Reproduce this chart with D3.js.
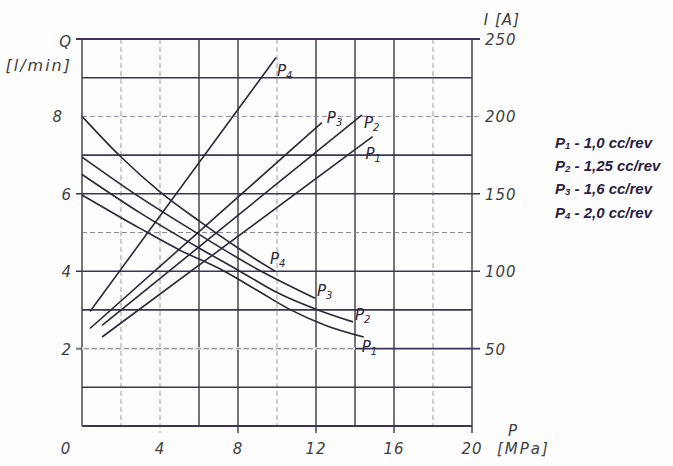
<!DOCTYPE html>
<html lang="en">
<head>
    <meta charset="UTF-8">
    <title>Q and I versus P</title>
    <script src="https://d3js.org/d3.v7.min.js"></script>
    <style>
        body { margin: 0; background: #fdfdfd; }
        svg { display: block; }
        .tick-label { font-family: "DejaVu Sans", sans-serif; font-style: italic; font-size: 15px; fill: #404040; letter-spacing: 1px; }
        .curve-label { font-family: "DejaVu Sans", sans-serif; font-style: italic; font-size: 15px; fill: #2b2638; }
        .legend { font-family: "Liberation Sans", Arial, sans-serif; font-style: italic; font-weight: bold; font-size: 15px; fill: #2a2240; }
    </style>
</head>
<body>
<script>
const width = 673;
const height = 466;

// pressure axis (MPa)
const pTicks = [0, 4, 8, 12, 16, 20];
// flow axis (l/min), left
const qTicks = [2, 4, 6, 8];
// current axis (A), right
const iTicks = [50, 100, 150, 200, 250];

// grid every 2 MPa / 1 l/min, some lines printed dashed
const pGrid = [0, 2, 4, 6, 8, 10, 12, 14, 16, 18, 20];
const pGridDashed = [2, 4, 10, 18];
const qGrid = [0, 1, 2, 3, 4, 5, 6, 7, 8, 9, 10];
const qGridDashed = [5, 8];

// falling curves: flow Q [l/min] vs P [MPa]
const flowP1 = [[0, 5.97], [3, 5.1], [5, 4.55], [7.3, 4.0], [9, 3.5], [10.7, 3.0], [12.5, 2.6], [14.45, 2.3]];
const flowP2 = [[0, 6.5], [3, 5.5], [6, 4.6], [8.1, 4.0], [10, 3.45], [12.1, 3.0], [13.9, 2.69]];
const flowP3 = [[0, 6.95], [3, 5.9], [6, 4.95], [9, 4.05], [11.95, 3.3]];
const flowP4 = [[0, 8.0], [2, 6.95], [4, 6.05], [6, 5.3], [8, 4.6], [9.9, 4.0]];

// rising lines: current I [A] vs P [MPa]
const currentP1 = [[1.03, 57.5], [14.9, 187]];
const currentP2 = [[1.03, 65], [14.36, 201]];
const currentP3 = [[0.41, 63], [12.3, 196]];
const currentP4 = [[0.41, 74], [9.95, 238]];

const curveNames = ["1", "2", "3", "4"];
const legendText = [" - 1,0 cc/rev", " - 1,25 cc/rev", " - 1,6 cc/rev", " - 2,0 cc/rev"];

const svg = d3.select("body").append("svg")
    .attr("width", width)
    .attr("height", height);

const x = d3.scaleLinear().domain([0, 20]).range([82, 472]);
const yQ = d3.scaleLinear().domain([0, 10]).range([426, 39]);
const yI = d3.scaleLinear().domain([0, 250]).range([426, 39]);

// vertical grid
svg.append("g")
   .selectAll("line")
   .data(pGrid)
   .enter()
   .append("line")
   .attr("x1", d => x(d))
   .attr("x2", d => x(d))
   .attr("y1", yQ(10))
   .attr("y2", d => pTicks.includes(d) && d > 0 ? yQ(0) + 7 : yQ(0))
   .style("stroke", d => pGridDashed.includes(d) ? "#9a9a9a" : "#3a3a3a")
   .style("stroke-width", d => pGridDashed.includes(d) ? 1 : 1.4)
   .style("stroke-dasharray", d => pGridDashed.includes(d) ? "5,3" : null);

// horizontal grid, labelled lines run out to the tick labels
const leftExt = [10, 6, 4, 2];
svg.append("g")
   .selectAll("line")
   .data(qGrid)
   .enter()
   .append("line")
   .attr("x1", d => leftExt.includes(d) ? x(0) - 6 : x(0))
   .attr("x2", d => d % 2 === 0 && d > 0 ? x(20) + 8 : x(20))
   .attr("y1", d => yQ(d))
   .attr("y2", d => yQ(d))
   .style("stroke", d => qGridDashed.includes(d) ? "#8e8699" : "#3f3456")
   .style("stroke-width", d => qGridDashed.includes(d) ? 1 : (d === 0 || d === 10 ? 2 : 1.6))
   .style("stroke-dasharray", d => qGridDashed.includes(d) ? "5,3" : null);

// the 2 l/min line is dashed on the left part only
svg.append("line")
   .attr("x1", x(0)).attr("x2", x(14))
   .attr("y1", yQ(2)).attr("y2", yQ(2))
   .style("stroke", "#fdfdfd").style("stroke-width", 2.5);
svg.append("line")
   .attr("x1", x(0) - 6).attr("x2", x(14))
   .attr("y1", yQ(2)).attr("y2", yQ(2))
   .style("stroke", "#8e8699").style("stroke-width", 1)
   .style("stroke-dasharray", "5,3");

// curves
const flowLine = d3.line().x(d => x(d[0])).y(d => yQ(d[1])).curve(d3.curveMonotoneX);
const currentLine = d3.line().x(d => x(d[0])).y(d => yI(d[1]));

const flows = [flowP1, flowP2, flowP3, flowP4];
const currents = [currentP1, currentP2, currentP3, currentP4];

svg.append("g")
   .selectAll("path")
   .data(flows)
   .enter()
   .append("path")
   .attr("d", flowLine)
   .style("fill", "none")
   .style("stroke", "#2b2638")
   .style("stroke-width", 1.6);

svg.append("g")
   .selectAll("path")
   .data(currents)
   .enter()
   .append("path")
   .attr("d", currentLine)
   .style("fill", "none")
   .style("stroke", "#2b2638")
   .style("stroke-width", 1.6);

// curve labels placed next to the end of each curve
function pLabel(px, py, name) {
    const t = svg.append("text").attr("class", "curve-label").attr("x", px).attr("y", py);
    t.append("tspan").text("P");
    t.append("tspan").attr("dy", 3).style("font-size", "10px").text(name);
}
const currentOffsets = [[-7, 22], [2, 13], [5, 0], [1, 18]];
const flowOffsets = [[-2, 15], [2, -2], [2, -2], [-5, -7]];
currents.forEach((c, i) => {
    const end = c[c.length - 1];
    pLabel(x(end[0]) + currentOffsets[i][0], yI(end[1]) + currentOffsets[i][1], curveNames[i]);
});
flows.forEach((c, i) => {
    const end = c[c.length - 1];
    pLabel(x(end[0]) + flowOffsets[i][0], yQ(end[1]) + flowOffsets[i][1], curveNames[i]);
});

// tick labels (the shared 0 sits in the corner)
svg.append("g")
   .selectAll("text")
   .data(pTicks)
   .enter()
   .append("text")
   .attr("class", "tick-label")
   .attr("x", d => d === 0 ? x(d) - 16 : x(d))
   .attr("y", 454)
   .attr("text-anchor", "middle")
   .text(d => d);

svg.append("g")
   .selectAll("text")
   .data(qTicks)
   .enter()
   .append("text")
   .attr("class", "tick-label")
   .attr("x", d => d === 8 ? 63 : 72)
   .attr("y", d => yQ(d) + 6)
   .attr("text-anchor", "end")
   .text(d => d);

svg.append("g")
   .selectAll("text")
   .data(iTicks)
   .enter()
   .append("text")
   .attr("class", "tick-label")
   .attr("x", 485)
   .attr("y", d => yI(d) + 6)
   .text(d => d);

// axis titles
svg.append("text").attr("class", "tick-label").attr("x", 72).attr("y", 47).attr("text-anchor", "end").text("Q");
svg.append("text").attr("class", "tick-label").attr("x", 72).attr("y", 71).attr("text-anchor", "end")
   .style("letter-spacing", "2px").style("font-size", "16px").text("[l/min]");
svg.append("text").attr("class", "tick-label").attr("x", 520).attr("y", 25).attr("text-anchor", "end").text("I [A]");
svg.append("text").attr("class", "tick-label").attr("x", 513).attr("y", 436).attr("text-anchor", "middle").text("P");
svg.append("text").attr("class", "tick-label").attr("x", 497).attr("y", 454).style("letter-spacing", "2px").text("[MPa]");

// legend
const legend = svg.append("g");
curveNames.forEach((n, i) => {
    const t = legend.append("text").attr("class", "legend").attr("x", 555).attr("y", 148 + i * 23.2);
    t.append("tspan").text("P");
    t.append("tspan").style("font-size", "9.5px").attr("dy", 1).text(n);
    t.append("tspan").attr("dy", -1).text(legendText[i]);
});
</script>
</body>
</html>
